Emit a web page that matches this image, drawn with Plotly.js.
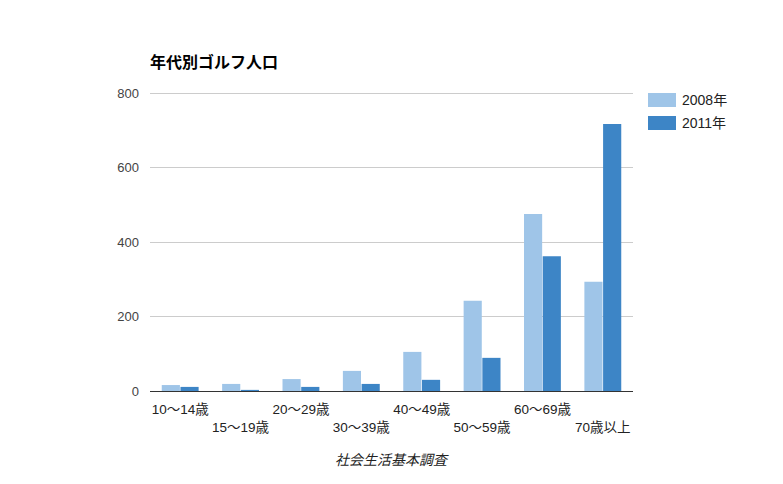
<!DOCTYPE html>
<html>
<head>
<meta charset="utf-8">
<script src="https://cdn.plot.ly/plotly-3.0.1.min.js"></script>
<style>html,body{margin:0;padding:0;background:#fff;}#chart{width:783px;height:484px;}</style>
</head>
<body>
<div id="chart"></div>
<script>
const categories = ["10〜14歳","15〜19歳","20〜29歳","30〜39歳","40〜49歳","50〜59歳","60〜69歳","70歳以上"];
const series2008 = [16, 19, 32, 54, 105, 242, 475, 293];
const series2011 = [11, 3, 11, 19, 30, 89, 362, 717];
const seriesNames = ["2008年", "2011年"];
const yTicks = [0, 200, 400, 600, 800];
const colors = ["#9fc5e8", "#3d85c6"];

const tickText = categories.map((c, i) => i % 2 === 0 ? c : " <br>" + c);
const font = "Arial, 'Liberation Sans', 'Noto Sans CJK JP', sans-serif";

const traces = [
  {type: "bar", name: seriesNames[0], x: categories, y: series2008, marker: {color: colors[0]}, showlegend: false, hoverinfo: "y"},
  {type: "bar", name: seriesNames[1], x: categories, y: series2011, marker: {color: colors[1]}, showlegend: false, hoverinfo: "y"}
];

// plot area: x 150..633, y 91..391 (800 at y=93)
const T = 91, B = 93, PH = 484 - T - B;
const py = (pix) => (484 - B - pix) / PH;
const shapes = [];
const annotations = [];
seriesNames.forEach((n, i) => {
  const y0 = 93 + i * 23;
  shapes.push({type: "rect", xref: "paper", yref: "paper",
    x0: (648 - 150) / 483, x1: (676 - 150) / 483,
    y0: py(y0 + 14), y1: py(y0),
    fillcolor: colors[i], line: {width: 0}});
  annotations.push({xref: "paper", yref: "paper", x: (680 - 150) / 483, y: py(y0 + 7),
    xanchor: "left", yanchor: "middle", text: n, showarrow: false, font: {size: 14, color: "#222"}});
});
annotations.push({xref: "paper", yref: "paper", x: (392 - 150) / 483, y: py(460), xanchor: "center", yanchor: "middle",
  text: "<i>社会生活基本調査</i>", showarrow: false, font: {size: 14, color: "#222"}});

const layout = {
  width: 783, height: 484,
  margin: {l: 150, r: 150, t: T, b: B},
  paper_bgcolor: "#fff", plot_bgcolor: "#fff",
  font: {family: font, size: 13, color: "#222"},
  title: {text: "<b>年代別ゴルフ人口</b>", x: 150 / 783, xanchor: "left", y: 1 - 62 / 484, yanchor: "middle", font: {size: 16, color: "#000"}},
  barmode: "group", bargap: 0.38, bargroupgap: 0.03,
  xaxis: {type: "category", tickmode: "array", tickvals: categories, ticktext: tickText,
    showline: true, linecolor: "#333", linewidth: 1, showgrid: false, ticks: "", tickfont: {size: 13.5, color: "#222"},
    ticklabelstandoff: 6},
  yaxis: {range: [0, 800 * PH / 298], tickmode: "array", tickvals: yTicks, showgrid: true, gridcolor: "#ccc", gridwidth: 1,
    zeroline: false, ticks: "", tickfont: {size: 13, color: "#444"}, ticklabelstandoff: 10},
  shapes: shapes, annotations: annotations
};

Plotly.newPlot("chart", traces, layout, {displayModeBar: false, staticPlot: true});
</script>
</body>
</html>
